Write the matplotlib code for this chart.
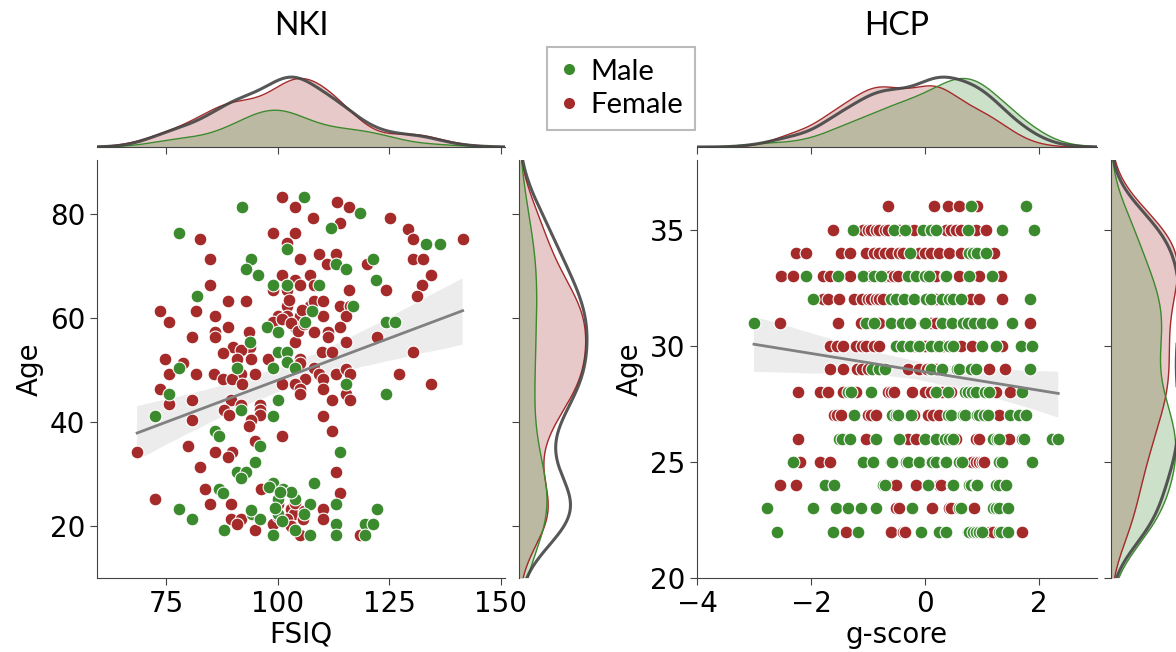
import numpy as np
import matplotlib.pyplot as plt
import seaborn as sns
from matplotlib.lines import Line2D

# ---- NKI: FSIQ vs Age ----
nki_male_fsiq = [106, 92, 118.4, 112, 77.8, 102, 133.3, 136.4, 94, 92.9, 113.1, 115.3, 121.3,
                 95.7, 109.2, 122.1, 99, 102, 81.9, 107.7, 117, 106.2, 124.3, 126.3, 97.6, 100,
                 93.9, 100, 102, 102, 77.9, 90.9, 99, 104, 115.3, 75.7, 124.3, 100, 91.8, 72.6,
                 99, 85.9, 86.8, 96, 114, 95, 90.9, 92.9, 91.8, 99, 108.1, 86.8, 101.2, 87.7,
                 104, 100, 107.2, 113.1, 77.8, 122.3, 94.2, 106, 100, 80.7, 96, 113.1, 119.5,
                 121.5, 87.9, 104, 99, 107.2, 113.1, 119.5, 98, 103, 94, 101, 100.5, 99.5]
nki_male_age = [83.3, 81.3, 80.3, 77.4, 76.3, 73.2, 74.2, 74.2, 71.3, 69.4, 70.4, 69.4, 71.3,
                68.3, 66.3, 67.3, 66.3, 66.3, 64.3, 61.4, 62.4, 59.3, 59.3, 59.3, 58.3, 57.4,
                55.3, 53.4, 53.4, 51.5, 50.3, 50.3, 50.3, 50.3, 47.3, 45.3, 45.3, 44.2, 42.3, 41.2,
                41.2, 38.3, 37.3, 35.4, 34.3, 32.3, 30.3, 30.3, 29.3, 28.3, 28.3, 27.2, 27.2, 26.3,
                25.2, 25.2, 24.2, 24.2, 23.2, 23.2, 22.3, 22.3, 22.3, 21.3, 21.3, 20.4, 20.4,
                20.4, 19.3, 19.3, 18.3, 18.3, 18.3, 18.3, 27.5, 26.5, 23, 21, 26.5, 23.5]

nki_female_fsiq = [101, 104, 113.3, 116, 108, 125.2, 114, 99, 104, 82.7, 102, 129.3, 130.4, 141.5,
                   84.8, 105, 109.2, 113.1, 111, 120, 130.4, 132.5, 101, 104, 107.2, 108.1, 134.4,
                   84.8, 99, 102.1, 105, 116, 124.3, 132.3, 131.2, 88.9, 92.9, 102, 107.2, 108.1,
                   110.1, 114, 116.3, 73.7, 81.8, 75.7, 85.9, 100.2, 99, 102.1, 104, 105, 110.1,
                   115.3, 88.9, 104, 114, 85.9, 93.7, 108.1, 111.3, 80.7, 85.9, 104, 111.3, 115.3,
                   122.3, 93.9, 90, 91.8, 110, 112.2, 130.4, 74.7, 87.8, 90.9, 94, 97.9, 105, 78.8,
                   105, 108.1, 75.7, 81.8, 85.7, 87.8, 91.8, 95, 89.8, 109.2, 113.1, 115.3, 116.3,
                   127.3, 106.2, 110.1, 101, 104, 92, 134.4, 73.7, 105, 110.1, 105, 115.3, 75.7,
                   80.7, 89.6, 112.2, 116.3, 96, 91.8, 87.9, 89, 96, 96, 110.1, 80.7, 94, 93.7,
                   112.2, 101, 95, 79.9, 68.5, 85.9, 89.8, 88.9, 82.7, 113.1, 83.8, 96.3, 114,
                   72.6, 103.3, 84.8, 89.6, 100, 110.1, 102.9, 103.7, 105.8, 89.6, 91.8, 110.1,
                   102.1, 90.9, 99, 95, 105, 118.4,
                   101, 103, 104.5, 106, 102.5, 105.5, 100, 103, 104, 106]
nki_female_age = [83.3, 81.3, 82.3, 81.3, 79.3, 79.3, 78.3, 76.3, 76.3, 75.3, 74.4, 77.2, 75.3, 75.3,
                  71.3, 71.3, 72.3, 72.3, 70.4, 70.4, 71.3, 71.3, 68.3, 67.3, 68.3, 66.3, 68.3,
                  66.3, 65.3, 65.3, 66.3, 65.3, 65.3, 66.3, 64.3, 63.3, 63.3, 62.4, 62.4, 63.3,
                  63.3, 62.4, 62.4, 61.3, 61.3, 59.3, 60.4, 60.4, 59.3, 60.4, 59.3, 60.4, 60.4,
                  60.4, 58.3, 58.3, 58.3, 57.4, 57.4, 57.4, 57.4, 56.3, 56.3, 55.3, 56.3, 55.3,
                  56.3, 54.4, 54.4, 53.8, 53.4, 53.4, 53.4, 52.2, 53.3, 52.2, 52.2, 52.2, 52.2, 51.3,
                  51.3, 50.3, 49.2, 49.2, 49.2, 48.3, 49.2, 49.2, 48.3, 49.2, 49.2, 50.2, 49.2,
                  49.2, 48.3, 48.3, 47.3, 47.3, 47.3, 47.3, 46.3, 46.3, 46.3, 45.3, 45.3, 43.4,
                  44.2, 44.2, 44.2, 44.2, 43.3, 43.3, 42.3, 41.3, 42.3, 41.3, 41.2, 40.3, 40.3, 39.2,
                  38.3, 37.3, 36.3, 35.4, 34.3, 34.3, 34.3, 33.3, 31.3, 30.3, 27.2, 27.2, 26.3,
                  25.2, 26.3, 24.2, 24.2, 24.2, 23.2, 23.2, 22.3, 21.3, 21.3, 21.3, 21.3,
                  21.3, 20.4, 20.4, 19.3, 18.3, 18.3,
                  59.8, 59, 57.5, 58.8, 63.5, 61.5, 22, 20, 24.5, 22.8]

# ---- HCP: g-score vs Age, one list of g-scores per age row ----
hcp_ages = [36, 35, 34, 33, 32, 31, 30, 29, 28, 27, 26, 25, 24, 23, 22]
hcp_male_g = [
    [0.8, 1.78],
    [-1.26, -0.55, -0.35, -0.04, 0.1, 0.2, 0.75, 1.36, 1.91],
    [-0.26, 0.78, 0.85, 0.92, 1.07],
    [-2.08, -1.53, -1.09, -0.9, -0.77, -0.3, -0.16, 0.0, 0.08, 0.37, 0.78, 1.18],
    [-1.96, -0.59, -0.5, -0.36, -0.19, 0.02, 0.1, 0.3, 0.43, 0.5, 0.63, 1.85],
    [-3.0, -1.03, -0.9, -0.59, -0.4, -0.27, 0.0, 0.3, 0.48, 0.66, 0.75, 0.86, 1.0, 1.18, 1.53],
    [-0.51, -0.4, -0.27, -0.1, 0.1, 0.25, 0.43, 0.5, 1.01, 1.24, 1.68, 1.88],
    [-0.93, -0.8, -0.7, 0.1, 0.3, 0.56, 0.6, 0.8, 0.9, 1.85],
    [-1.35, -1.3, -0.94, 0.2, 0.4, 0.7, 0.75, 0.83, 0.9, 1.05, 1.12, 1.71],
    [-1.24, -0.57, -0.5, -0.48, -0.24, 0.4, 0.45, 0.66, 0.7, 0.92, 0.95, 1.04, 1.1, 1.5,
     1.65, 1.77],
    [-1.5, -1.45, -1.32, -0.86, -0.45, 0.0, 0.2, 0.35, 0.43, 0.5, 1.2, 1.27, 1.3, 1.7, 1.74,
     2.23, 2.34],
    [-2.31, -1.09, -0.91, -0.6, -0.57, -0.33, -0.3, -0.1, 0.1, 0.13, 0.2, 0.35, 0.37, 0.6,
     0.65, 1.3, 1.35, 1.88],
    [-1.76, -1.59, -0.74, -0.7, 0.05, 0.48, 0.5, 0.78, 0.8, 0.9, 0.92, 1.25, 1.3, 1.42],
    [-2.78, -1.96, -1.56, -1.35, -1.12, -0.86, -0.22, 0.6, 0.63, 1.2, 1.24, 1.3, 1.45],
    [-2.6, -1.61, -1.18, -0.07, 0.25, 0.37, 0.75, 0.78, 0.85, 0.9, 0.95, 1.0, 1.3, 1.33, 1.45],
]
hcp_female_g = [
    [-0.65, 0.16, 0.4, 0.6, 0.92],
    [-1.61, -1.09, -1.0, -0.94, -0.85, -0.8, -0.7, -0.65, -0.5, -0.45, -0.3, -0.2, 0.37, 0.45,
     0.54, 0.63, 0.89, 1.07],
    [-2.26, -2.08, -1.47, -1.32, -1.03, -0.9, -0.8, -0.7, -0.59, -0.45, -0.39,
     -0.25, -0.1, 0.0, 0.1, 0.25, 0.43, 0.63, 1.21],
    [-2.52, -2.31, -1.79, -1.67, -1.32, -0.95, -0.86, -0.7, -0.62, -0.55,
     -0.48, 0.1, 0.19, 0.35, 0.6, 0.95, 1.33],
    [-1.79, -1.7, -1.5, -1.24, -1.1, -1.0, -0.95, -0.86, -0.8, -0.74, 0.0, 0.19, 0.4, 0.8,
     0.95, 1.36],
    [-2.55, -1.53, -1.12, -0.95, -0.89, -0.8, -0.3, -0.01, 0.1, 0.19, 0.3, 1.85],
    [-1.67, -1.55, -1.44, -1.21, -1.1, -1.03, -0.9, -0.8, -0.2, 0.0, 0.1, 0.2, 0.31,
     0.63, 0.83, 1.36],
    [-1.66, -1.43, -1.2, -1.1, -1.0, -0.3, -0.1, 0.03, 0.1, 0.2, 0.3, 1.13, 1.4],
    [-2.23, -1.85, -1.7, -1.44, -1.3, -1.21, -0.65, -0.6, -0.54, -0.22, 0.0, 0.1, 0.19, 0.3,
     0.45, 1.24, 1.5],
    [-1.59, -1.55, -1.47, -1.0, -0.95, -0.86, -0.2, 0.05, 0.15, 0.25, 1.3],
    [-2.23, -1.03, -0.3, -0.16, 0.02, 0.2, 0.5, 0.54, 0.89, 0.95, 1.47],
    [-2.2, -1.85, -1.67, 0.8, 0.83, 0.9, 0.95, 1.0, 1.04],
    [-2.55, -2.26, -0.54, -0.5, -0.16, 0.25, 0.28],
    [-0.51, -0.45, 0.13, 0.43, 0.45, 0.86],
    [-1.38, -0.59, -0.39, -0.35, 1.15, 1.2, 1.71],
]

GREEN = "#3b8a2e"
RED = "#a52a2a"
W, H = 1176, 652


def flatten(ages, rows):
    g = [v for row in rows for v in row]
    a = [age for age, row in zip(ages, rows) for _ in row]
    return np.array(g), np.array(a, float)


def kde(values, grid):
    v = np.asarray(values, float)
    bw = v.std(ddof=1) * len(v) ** (-1 / 5)
    z = (grid[:, None] - v[None, :]) / bw
    return np.exp(-0.5 * z ** 2).sum(axis=1) / (len(v) * bw * np.sqrt(2 * np.pi))


def marginal(ax, male, female, grid, vertical=False):
    n_m, n_f = len(male), len(female)
    d_m = kde(male, grid) * n_m / (n_m + n_f)
    d_f = kde(female, grid) * n_f / (n_m + n_f)
    d_all = kde(np.concatenate([male, female]), grid)
    top = max(d_f.max(), d_m.max())
    d_all = d_all * top * 1.02 / d_all.max()
    for d, c in [(d_f, RED), (d_m, GREEN)]:
        if vertical:
            ax.fill_betweenx(grid, 0, d, color=c, alpha=0.25, lw=0)
            ax.plot(d, grid, color=c, lw=1)
        else:
            ax.fill_between(grid, 0, d, color=c, alpha=0.25, lw=0)
            ax.plot(grid, d, color=c, lw=1)
    if vertical:
        ax.plot(d_all, grid, color="#454545", lw=2.2, alpha=0.9)
        ax.set_xlim(0, top * 1.08)
    else:
        ax.plot(grid, d_all, color="#454545", lw=2.2, alpha=0.9)
        ax.set_ylim(0, top * 1.08)


def px_axes(fig, x0, y0, x1, y1):
    return fig.add_axes([x0 / W, 1 - y1 / H, (x1 - x0) / W, (y1 - y0) / H])


def style(ax, spines):
    for s in ["left", "right", "top", "bottom"]:
        ax.spines[s].set_visible(s in spines)
        ax.spines[s].set_color("#444444")
    ax.tick_params(colors="#444444", labelcolor="black", labelsize=20, length=5)


def panel(fig, box, male_x, male_y, fem_x, fem_y, xlim, ylim, xlabel, title, xticks, yticks):
    x0, x1 = box
    ax = px_axes(fig, x0, 160, x1, 578)
    top = px_axes(fig, x0, 73, x1, 147)
    right = px_axes(fig, x1 + 14, 160, x1 + 86, 578)

    ax.scatter(fem_x, fem_y, s=85, color=RED, edgecolor="white", lw=0.8, zorder=2)
    ax.scatter(male_x, male_y, s=85, color=GREEN, edgecolor="white", lw=0.8, zorder=2)
    all_x = np.concatenate([male_x, fem_x])
    all_y = np.concatenate([male_y, fem_y])
    sns.regplot(x=all_x, y=all_y, ax=ax, scatter=False, color="gray", seed=0,
                line_kws={"lw": 2})
    ax.set_xlim(*xlim)
    ax.set_ylim(*ylim)
    ax.set_xticks(xticks)
    ax.set_yticks(yticks)
    ax.set_xlabel(xlabel, fontsize=20, labelpad=2)
    ax.set_ylabel("Age", fontsize=20)
    style(ax, ["left", "bottom"])

    gx = np.linspace(xlim[0], xlim[1], 400)
    marginal(top, male_x, fem_x, gx)
    top.set_xlim(*xlim)
    top.set_xticks(xticks)
    top.set_xticklabels([])
    top.set_yticks([])
    style(top, ["bottom"])

    gy = np.linspace(ylim[0], ylim[1], 400)
    marginal(right, male_y, fem_y, gy, vertical=True)
    right.set_ylim(*ylim)
    right.set_yticks(yticks)
    right.set_yticklabels([])
    right.set_xticks([])
    style(right, ["left"])

    fig.text((x0 + x1) / 2 / W, 1 - 26 / H, title, ha="center", va="center",
             family="Lato", fontsize=23)


fig = plt.figure(figsize=(W / 100, H / 100), dpi=100)

panel(fig, (97, 505),
      np.array(nki_male_fsiq), np.array(nki_male_age),
      np.array(nki_female_fsiq), np.array(nki_female_age),
      (59.5, 151), (10, 90.4), "FSIQ", "NKI", [75, 100, 125, 150], [20, 40, 60, 80])

hm_g, hm_a = flatten(hcp_ages, hcp_male_g)
hf_g, hf_a = flatten(hcp_ages, hcp_female_g)
panel(fig, (697, 1097), hm_g, hm_a, hf_g, hf_a,
      (-4, 3.02), (20, 38), "g-score", "HCP", [-4, -2, 0, 2], [20, 25, 30, 35])

handles = [Line2D([], [], ls="", marker="o", markersize=9, color=c, markeredgecolor="white")
           for c in (GREEN, RED)]
leg = fig.legend(handles, ["Male", "Female"], loc="upper left",
                 bbox_to_anchor=(547 / W, 1 - 47 / H), borderaxespad=0,
                 fancybox=False, edgecolor="#aaaaaa", prop={"family": "Lato", "size": 21},
                 handlelength=0.7, handletextpad=0.4, borderpad=0.4, labelspacing=0.25)
leg.get_frame().set_linewidth(1.5)

fig.savefig("out.png", dpi=100)
